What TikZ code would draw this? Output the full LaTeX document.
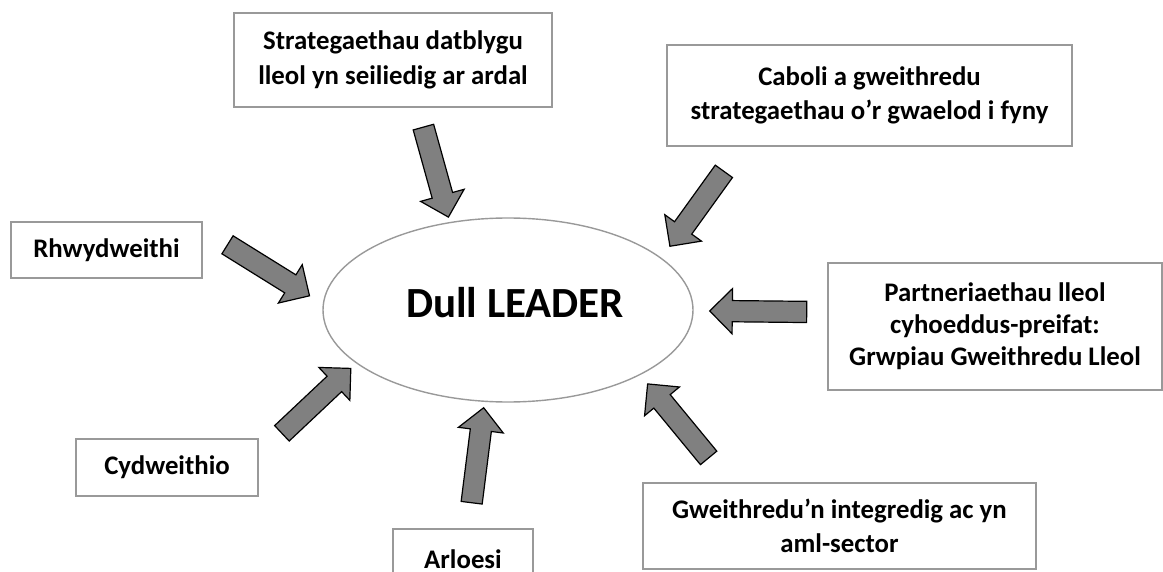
\documentclass[tikz,border=0pt]{standalone}
\usepackage{fontspec}
\setmainfont{Carlito}
\usetikzlibrary{shapes.geometric,shapes.arrows,calc}
\definecolor{boxgray}{gray}{0.6}
\definecolor{arrowgray}{gray}{0.5}

% block arrow from tail to tip
\newcommand{\blockarrow}[2]{%
  \path let \p1=(#1), \p2=(#2),
    \n1={atan2(\y2-\y1,\x2-\x1)}, \n2={veclen(\x2-\x1,\y2-\y1)} in
    node[fatarrow, rotate=\n1, minimum height=\n2] at ($(#1)!0.5!(#2)$) {};}

\begin{document}
\begin{tikzpicture}[x=0.5pt, y=-0.5pt,
    idea/.style={draw=boxgray, line width=0.8pt, align=center, inner sep=0pt,
      font=\fontsize{13.4}{17.2}\selectfont\bfseries},
    hub/.style={ellipse, draw=boxgray, line width=0.7pt, inner sep=0pt,
      minimum width=185pt, minimum height=92pt},
    fatarrow/.style={single arrow, draw=black, fill=arrowgray, line width=0.6pt,
      inner xsep=0pt, inner ysep=5pt, minimum width=0pt,
      single arrow head extend=6pt, single arrow tip angle=90}]
  \useasboundingbox (0,0) rectangle (1163,572);
  \clip (0,0) rectangle (1163,572);

  % centre
  \node[hub] (dull) at (508,310) {};
  \node[font=\fontsize{21.5}{26}\selectfont\bfseries] (title) at (515,303) {Dull LEADER};

  % boxes
  \node[idea, minimum width=159pt, minimum height=47pt] (strat) at (393,60)
    {Strategaethau datblygu\\lleol yn seiliedig ar ardal};
  \node[idea, minimum width=202.5pt, minimum height=50.5pt] (caboli) at (869.5,95.5)
    {Caboli a gweithredu\\strategaethau o’r gwaelod i fyny};
  \node[idea, minimum width=95.5pt, minimum height=28pt] (rhwyd) at (106.5,250)
    {Rhwydweithi};
  \node[idea, minimum width=167pt, minimum height=63.5pt,
    font=\fontsize{13.4}{16}\selectfont\bfseries] (partner) at (995,326.5)
    {Partneriaethau lleol\\cyhoeddus-preifat:\\Grwpiau Gweithredu Lleol};
  \node[idea, minimum width=91pt, minimum height=28.5pt] (cydw) at (167,467.5)
    {Cydweithio};
  \node[idea, minimum width=70pt, minimum height=30pt] (arloesi) at (463,559)
    {Arloesi};
  \node[idea, minimum width=196.5pt, minimum height=43pt] (gweith) at (839.5,526)
    {Gweithredu’n integredig ac yn\\aml-sector};

  % arrow ends
  \coordinate (t1) at (422,122); \coordinate (h1) at (447,212);
  \coordinate (t2) at (727,167); \coordinate (h2) at (673,242);
  \coordinate (t3) at (223,242); \coordinate (h3) at (305,293);
  \coordinate (t4) at (812,312); \coordinate (h4) at (715,311);
  \coordinate (t5) at (278,437); \coordinate (h5) at (347,372);
  \coordinate (t6) at (471,508); \coordinate (h6) at (483,413);
  \coordinate (t7) at (712,462); \coordinate (h7) at (651,388);

  \foreach \i in {1,...,7}
    \blockarrow{t\i}{h\i};
\end{tikzpicture}
\end{document}
